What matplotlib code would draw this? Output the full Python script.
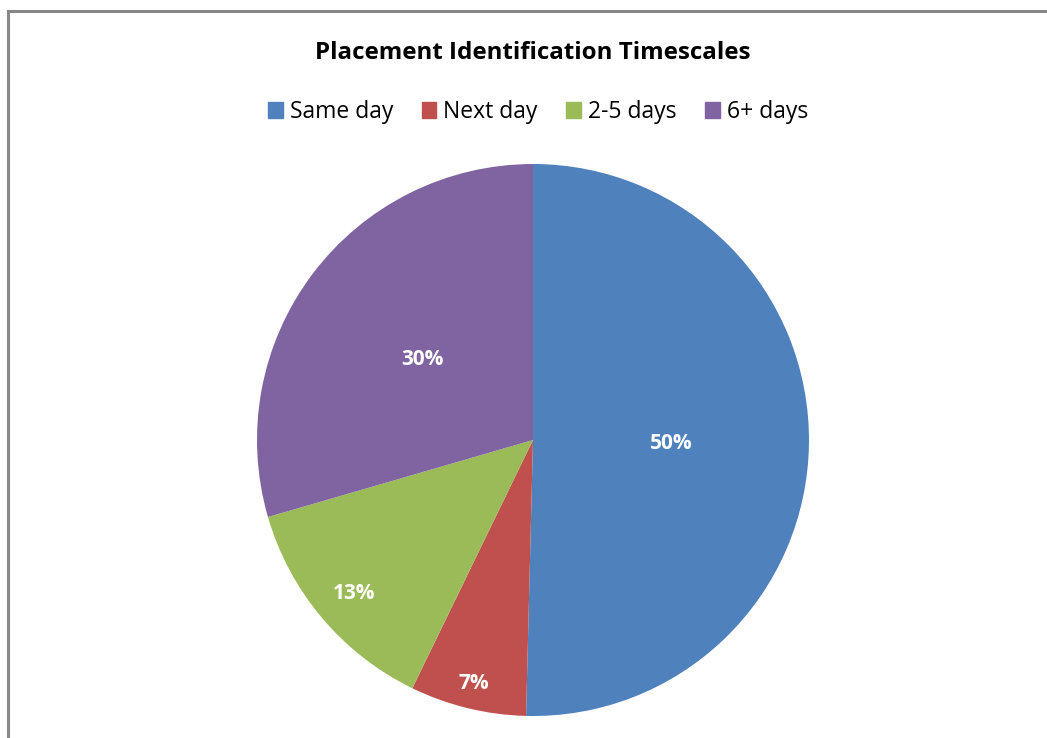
import matplotlib
matplotlib.use("Agg")
import matplotlib.pyplot as plt
import numpy as np
from matplotlib.patches import Rectangle
from matplotlib.lines import Line2D

categories = ["Same day", "Next day", "2-5 days", "6+ days"]
values = [50.4, 6.8, 13.3, 29.5]
colors = ["#4F81BD", "#C0504D", "#9BBB59", "#8064A2"]
title = "Placement Identification Timescales"

plt.rcParams['font.family'] = ['Open Sans', 'DejaVu Sans']

fig = plt.figure(figsize=(10.47, 7.38), dpi=100)
fig.patch.set_facecolor("white")

# border (left and top visible)
fig.add_artist(Line2D([7.5/1047, 7.5/1047], [0, 1 - 11/738], transform=fig.transFigure,
                      color="#888888", lw=2.2))
fig.add_artist(Line2D([7.5/1047, 1], [1 - 11/738, 1 - 11/738], transform=fig.transFigure,
                      color="#888888", lw=2.2))

cx, cy, r = 533, 440, 276
W, H = 1047, 738
ax = fig.add_axes([(cx - r) / W, (H - cy - r) / H, 2 * r / W, 2 * r / H])
wedges, _ = ax.pie(values, colors=colors, startangle=90, counterclock=False,
                   radius=1.0, wedgeprops=dict(linewidth=0))
ax.set_xlim(-1, 1)
ax.set_ylim(-1, 1)
ax.set_aspect("equal")
ax.axis("off")

dists = [0.5, 0.9, 0.85, 0.5]
total = sum(values)
cum = 0
for v, d in zip(values, dists):
    mid = (cum + v / 2) / total * 360
    cum += v
    x = d * np.sin(np.radians(mid))
    y = d * np.cos(np.radians(mid))
    ax.text(x, y - 0.008, f"{round(v / total * 100):.0f}%", ha="center", va="center",
            color="white", fontsize=15, fontweight="bold")

fig.text(cx / W, 1 - 53 / H, title, ha="center", va="center",
         fontsize=17.4, fontweight="bold")

handles = [Rectangle((0, 0), 1, 1, color=c) for c in colors]
fig.legend(handles, categories, loc="center", bbox_to_anchor=(538 / W, 1 - 112 / H),
           ncol=4, frameon=False, fontsize=16.5, handlelength=0.65, handleheight=0.65,
           handletextpad=0.3, columnspacing=1.25)

fig.savefig("out.png", dpi=100)
